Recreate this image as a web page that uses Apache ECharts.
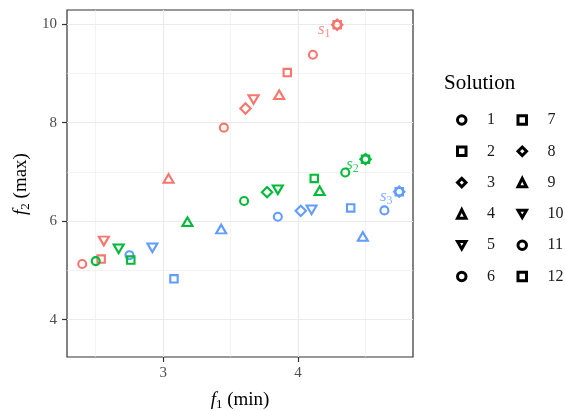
<!DOCTYPE html>
<html lang="en">
<head>
<meta charset="UTF-8">
<title>Solutions</title>
<style>html,body{margin:0;padding:0;background:#fff}</style>
<script src="https://cdn.jsdelivr.net/npm/echarts@6/dist/echarts.min.js"></script>
</head>
<body>
<div id="main" style="width:565px;height:411px"></div>
<script type="text/javascript">
// solution number -> shape (ggplot open shapes)
var solutions = ['1','2','3','4','5','6','7','8','9','10','11','12'];
var solutionShapes = ['circle','square','diamond','triangle','down','circle','square','diamond','triangle','down','circle','square'];

// values, index = solution - 1
var s1X = [2.40, 2.54, 4.29, 3.04, 2.56, 3.45, 3.92, 3.61, 3.86, 3.67, 4.11, 4.29];
var s1Y = [5.13, 5.23, 9.99, 6.87, 5.60, 7.90, 9.02, 8.29, 8.57, 8.47, 9.38, 9.99];
var s2X = [2.50, 2.76, 4.50, 3.18, 2.67, 3.60, 4.12, 3.77, 4.16, 3.85, 4.35, 4.50];
var s2Y = [5.19, 5.21, 7.26, 5.99, 5.44, 6.41, 6.87, 6.59, 6.62, 6.64, 6.99, 7.26];
var s3X = [2.75, 3.08, 4.75, 3.43, 2.92, 3.85, 4.39, 4.02, 4.48, 4.10, 4.64, 4.75];
var s3Y = [5.31, 4.83, 6.60, 5.84, 5.46, 6.09, 6.27, 6.21, 5.69, 6.23, 6.22, 6.60];

var xTicks = [3, 4];
var yTicks = [4, 6, 8, 10];
var xMinor = [2.5, 3.5, 4.5];
var yMinor = [5, 7, 9];

var font = 'Liberation Serif';
var symbolOf = {circle:'circle', square:'rect', diamond:'diamond', triangle:'triangle', down:'path://M0,0L12,0L6,10.4Z'};
var sizeOf = {circle:[8,8], square:[7.4,7.4], diamond:[10.4,10.4], triangle:[10,8.6], down:[10,8.6]};

function pts(xs, ys) {
	return xs.map(function (x, i) { return [x, ys[i], i]; });
}
function makeSeries(name, xs, ys, color, z) {
	return {
		name: name, type: 'scatter', z: z, silent: true,
		data: pts(xs, ys),
		symbol: function (v) { return symbolOf[solutionShapes[v[2]]]; },
		symbolSize: function (v) { return sizeOf[solutionShapes[v[2]]]; },
		itemStyle: {color: 'rgba(0,0,0,0)', borderColor: color, borderWidth: 2.1, opacity: 1},
		emphasis: {disabled: true}
	};
}
function tag(name, x, y, n, color) {
	return {
		name: name, type: 'scatter', z: 6, silent: true,
		data: [[x, y]], symbol: 'circle', symbolSize: 1,
		itemStyle: {color: 'rgba(0,0,0,0)'},
		label: {
			show: true, position: 'inside', offset: [-13, 5],
			formatter: '{s|s}{n|' + n + '}',
			rich: {
				s: {fontFamily: font, fontStyle: 'italic', fontSize: 17, color: color},
				n: {fontFamily: font, fontSize: 12, color: color, padding: [9, 0, 0, 0]}
			}
		}
	};
}

var gridLines = [];
xTicks.forEach(function (v) { gridLines.push({xAxis: v, lineStyle: {width: 1.2}}); });
xMinor.forEach(function (v) { gridLines.push({xAxis: v, lineStyle: {width: 0.6}}); });
yTicks.forEach(function (v) { gridLines.push({yAxis: v, lineStyle: {width: 1.2}}); });
yMinor.forEach(function (v) { gridLines.push({yAxis: v, lineStyle: {width: 0.6}}); });

var series = [{
	name: 'grid', type: 'scatter', data: [], silent: true,
	markLine: {
		silent: true, z: 1, symbol: ['none', 'none'], label: {show: false},
		lineStyle: {color: '#EBEBEB', type: 'solid'},
		data: gridLines
	}
}];
series.push(makeSeries('s1', s1X, s1Y, '#F8766D', 3));
series.push(makeSeries('s3', s3X, s3Y, '#619CFF', 3));
series.push(makeSeries('s2', s2X, s2Y, '#00BA38', 4));
series.push(tag('t1', s1X[11], s1Y[11], 1, '#F8766D'));
series.push(tag('t2', s2X[11], s2Y[11], 2, '#00BA38'));
series.push(tag('t3', s3X[11], s3Y[11], 3, '#619CFF'));

// dummy series, one per solution, for the legend
var legendItems = [];
solutions.forEach(function (s, i) {
	var shp = solutionShapes[i];
	series.push({name: s, type: 'scatter', data: [], symbol: symbolOf[shp]});
	legendItems.push({
		name: s, icon: symbolOf[shp],
		itemStyle: {color: 'rgba(0,0,0,0)', borderColor: '#000', borderWidth: 3, opacity: 1}
	});
});

var legendBase = {
	orient: 'vertical', top: 112, itemWidth: 8.5, itemHeight: 8.5, itemGap: 15.3,
	padding: 0, selectedMode: false,
	textStyle: {fontFamily: font, fontSize: 16, color: '#1a1a1a', padding: [0, 0, 0, 16]}
};

var nameRich = {
	i: {fontFamily: font, fontStyle: 'italic', fontSize: 19, fill: '#000', color: '#000'},
	n: {fontFamily: font, fontSize: 13, fill: '#000', color: '#000', padding: [9, 0, 0, 0]},
	r: {fontFamily: font, fontSize: 19, fill: '#000', color: '#000'}
};

var myChart = echarts.init(document.getElementById('main'));
var option = {
	animation: false,
	backgroundColor: '#fff',
	title: {
		text: 'Solution', left: 444, top: 73, padding: 0,
		textStyle: {fontFamily: font, fontSize: 21, fontWeight: 'normal', color: '#000'}
	},
	graphic: [{
		type: 'text', x: 21, y: 184, rotation: Math.PI / 2, silent: true,
		style: {
			text: '{i|f}{n|2}{r| (max)}', rich: nameRich,
			align: 'center', verticalAlign: 'middle', fill: '#000'
		}
	}],
	legend: [
		Object.assign({}, legendBase, {left: 456, data: legendItems.slice(0, 6)}),
		Object.assign({}, legendBase, {left: 516.5, data: legendItems.slice(6)})
	],
	grid: {
		left: 67, top: 10, right: 152, bottom: 54,
		outerBoundsMode: 'none', containLabel: false,
		show: true, borderColor: '#333', borderWidth: 1.2, backgroundColor: 'rgba(0,0,0,0)'
	},
	xAxis: {
		type: 'value', min: 2.287, max: 4.852,
		axisLine: {show: false},
		splitLine: {show: false},
		axisTick: {show: true, length: 5, customValues: xTicks, lineStyle: {color: '#333', width: 1.2}},
		axisLabel: {customValues: xTicks, fontFamily: font, fontSize: 15, color: '#4D4D4D', margin: 9},
		name: '{i|f}{n|1} (min)', nameLocation: 'middle', nameGap: 32,
		nameTextStyle: {
			fontFamily: font, fontSize: 19, color: '#000',
			rich: {
				i: {fontFamily: font, fontStyle: 'italic', fontSize: 19},
				n: {fontFamily: font, fontSize: 13, padding: [9, 0, 0, 0]}
			}
		}
	},
	yAxis: {
		type: 'value', min: 3.242, max: 10.29,
		axisLine: {show: false},
		splitLine: {show: false},
		axisTick: {show: true, length: 5, customValues: yTicks, lineStyle: {color: '#333', width: 1.2}},
		axisLabel: {customValues: yTicks, fontFamily: font, fontSize: 15, color: '#4D4D4D', margin: 10}
	},
	series: series
};
myChart.setOption(option);
</script>
</body>
</html>
